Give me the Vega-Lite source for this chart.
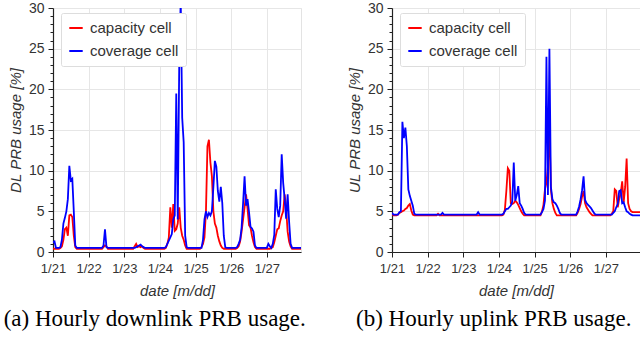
{
"$schema":"https://vega.github.io/schema/vega-lite/v6.json",
"padding":{"left":3,"top":0,"right":0,"bottom":0},
"bounds":"flush",
"spacing":91,
"resolve":{"scale":{"color":"independent"},"legend":{"color":"independent"}},
"config":{"font":"Liberation Sans","view":{"stroke":"#e3e3e3"},
 "axis":{"gridColor":"#e6e6e6","domainColor":"#222","tickColor":"#222","labelColor":"#333","titleColor":"#333","labelFont":"Liberation Sans","titleFont":"Liberation Sans","titleFontStyle":"italic","titleFontWeight":"normal","titleFontSize":15,"domainWidth":1.2}},
"data":{"values":[
{"t":"2024-01-21T00:00","dc":0.4,"dv":1.2,"uc":4.6,"uv":4.8},
{"t":"2024-01-21T01:00","dc":0.4,"dv":1.3,"uc":4.5,"uv":4.6},
{"t":"2024-01-21T02:00","dc":0.4,"dv":0.5,"uc":4.5,"uv":4.6},
{"t":"2024-01-21T03:00","dc":0.4,"dv":0.5,"uc":4.5,"uv":4.6},
{"t":"2024-01-21T04:00","dc":0.4,"dv":0.5,"uc":4.6,"uv":4.6},
{"t":"2024-01-21T05:00","dc":0.5,"dv":0.6,"uc":4.8,"uv":4.9},
{"t":"2024-01-21T06:00","dc":0.7,"dv":1.5,"uc":4.9,"uv":5.0},
{"t":"2024-01-21T07:00","dc":1.5,"dv":3.5,"uc":5.0,"uv":16.0},
{"t":"2024-01-21T08:00","dc":2.8,"dv":4.2,"uc":5.1,"uv":14.0},
{"t":"2024-01-21T09:00","dc":3.0,"dv":5.0,"uc":5.3,"uv":15.3},
{"t":"2024-01-21T10:00","dc":2.0,"dv":6.5,"uc":5.4,"uv":13.0},
{"t":"2024-01-21T11:00","dc":4.5,"dv":10.6,"uc":5.7,"uv":7.7},
{"t":"2024-01-21T12:00","dc":4.6,"dv":8.8,"uc":5.9,"uv":6.9},
{"t":"2024-01-21T13:00","dc":4.3,"dv":9.0,"uc":5.1,"uv":6.3},
{"t":"2024-01-21T14:00","dc":2.0,"dv":5.0,"uc":4.6,"uv":5.7},
{"t":"2024-01-21T15:00","dc":0.6,"dv":0.8,"uc":4.5,"uv":4.7},
{"t":"2024-01-21T16:00","dc":0.4,"dv":0.5,"uc":4.5,"uv":4.6},
{"t":"2024-01-21T17:00","dc":0.4,"dv":0.5,"uc":4.5,"uv":4.6},
{"t":"2024-01-21T18:00","dc":0.4,"dv":0.5,"uc":4.5,"uv":4.6},
{"t":"2024-01-21T19:00","dc":0.4,"dv":0.5,"uc":4.5,"uv":4.6},
{"t":"2024-01-21T20:00","dc":0.4,"dv":0.5,"uc":4.5,"uv":4.6},
{"t":"2024-01-21T21:00","dc":0.4,"dv":0.5,"uc":4.5,"uv":4.6},
{"t":"2024-01-21T22:00","dc":0.4,"dv":0.5,"uc":4.5,"uv":4.6},
{"t":"2024-01-21T23:00","dc":0.4,"dv":0.5,"uc":4.5,"uv":4.6},
{"t":"2024-01-22T00:00","dc":0.4,"dv":0.5,"uc":4.5,"uv":4.6},
{"t":"2024-01-22T01:00","dc":0.4,"dv":0.5,"uc":4.5,"uv":4.6},
{"t":"2024-01-22T02:00","dc":0.4,"dv":0.5,"uc":4.5,"uv":4.6},
{"t":"2024-01-22T03:00","dc":0.4,"dv":0.5,"uc":4.5,"uv":4.6},
{"t":"2024-01-22T04:00","dc":0.4,"dv":0.5,"uc":4.5,"uv":4.6},
{"t":"2024-01-22T05:00","dc":0.4,"dv":0.5,"uc":4.5,"uv":4.6},
{"t":"2024-01-22T06:00","dc":0.4,"dv":0.5,"uc":4.5,"uv":4.6},
{"t":"2024-01-22T07:00","dc":0.4,"dv":0.5,"uc":4.7,"uv":4.6},
{"t":"2024-01-22T08:00","dc":0.4,"dv":0.5,"uc":4.5,"uv":4.6},
{"t":"2024-01-22T09:00","dc":0.4,"dv":0.5,"uc":4.5,"uv":4.6},
{"t":"2024-01-22T10:00","dc":0.6,"dv":0.8,"uc":4.5,"uv":4.8},
{"t":"2024-01-22T11:00","dc":0.8,"dv":2.8,"uc":4.5,"uv":4.6},
{"t":"2024-01-22T12:00","dc":0.7,"dv":0.6,"uc":4.5,"uv":4.6},
{"t":"2024-01-22T13:00","dc":0.4,"dv":0.5,"uc":4.5,"uv":4.6},
{"t":"2024-01-22T14:00","dc":0.4,"dv":0.5,"uc":4.5,"uv":4.6},
{"t":"2024-01-22T15:00","dc":0.4,"dv":0.5,"uc":4.5,"uv":4.6},
{"t":"2024-01-22T16:00","dc":0.4,"dv":0.5,"uc":4.5,"uv":4.6},
{"t":"2024-01-22T17:00","dc":0.4,"dv":0.5,"uc":4.5,"uv":4.6},
{"t":"2024-01-22T18:00","dc":0.4,"dv":0.5,"uc":4.5,"uv":4.6},
{"t":"2024-01-22T19:00","dc":0.4,"dv":0.5,"uc":4.5,"uv":4.6},
{"t":"2024-01-22T20:00","dc":0.4,"dv":0.5,"uc":4.5,"uv":4.6},
{"t":"2024-01-22T21:00","dc":0.4,"dv":0.5,"uc":4.5,"uv":4.6},
{"t":"2024-01-22T22:00","dc":0.4,"dv":0.5,"uc":4.5,"uv":4.6},
{"t":"2024-01-22T23:00","dc":0.4,"dv":0.5,"uc":4.5,"uv":4.6},
{"t":"2024-01-23T00:00","dc":0.4,"dv":0.5,"uc":4.5,"uv":4.6},
{"t":"2024-01-23T01:00","dc":0.4,"dv":0.5,"uc":4.5,"uv":4.6},
{"t":"2024-01-23T02:00","dc":0.4,"dv":0.5,"uc":4.5,"uv":4.6},
{"t":"2024-01-23T03:00","dc":0.4,"dv":0.5,"uc":4.5,"uv":4.6},
{"t":"2024-01-23T04:00","dc":0.4,"dv":0.5,"uc":4.5,"uv":4.6},
{"t":"2024-01-23T05:00","dc":0.4,"dv":0.5,"uc":4.5,"uv":4.6},
{"t":"2024-01-23T06:00","dc":0.4,"dv":0.5,"uc":4.5,"uv":4.6},
{"t":"2024-01-23T07:00","dc":0.7,"dv":0.5,"uc":4.5,"uv":4.6},
{"t":"2024-01-23T08:00","dc":1.0,"dv":0.6,"uc":4.5,"uv":4.6},
{"t":"2024-01-23T09:00","dc":0.6,"dv":0.7,"uc":4.5,"uv":4.6},
{"t":"2024-01-23T10:00","dc":0.7,"dv":0.8,"uc":4.5,"uv":4.9},
{"t":"2024-01-23T11:00","dc":0.6,"dv":0.9,"uc":4.5,"uv":4.6},
{"t":"2024-01-23T12:00","dc":0.7,"dv":0.7,"uc":4.5,"uv":4.6},
{"t":"2024-01-23T13:00","dc":0.5,"dv":0.6,"uc":4.5,"uv":4.6},
{"t":"2024-01-23T14:00","dc":0.4,"dv":0.5,"uc":4.5,"uv":4.6},
{"t":"2024-01-23T15:00","dc":0.4,"dv":0.5,"uc":4.5,"uv":4.6},
{"t":"2024-01-23T16:00","dc":0.4,"dv":0.5,"uc":4.5,"uv":4.6},
{"t":"2024-01-23T17:00","dc":0.4,"dv":0.5,"uc":4.5,"uv":4.6},
{"t":"2024-01-23T18:00","dc":0.4,"dv":0.5,"uc":4.5,"uv":4.6},
{"t":"2024-01-23T19:00","dc":0.4,"dv":0.5,"uc":4.5,"uv":4.6},
{"t":"2024-01-23T20:00","dc":0.4,"dv":0.5,"uc":4.5,"uv":4.6},
{"t":"2024-01-23T21:00","dc":0.4,"dv":0.5,"uc":4.5,"uv":4.6},
{"t":"2024-01-23T22:00","dc":0.4,"dv":0.5,"uc":4.5,"uv":4.6},
{"t":"2024-01-23T23:00","dc":0.4,"dv":0.5,"uc":4.5,"uv":4.6},
{"t":"2024-01-24T00:00","dc":0.4,"dv":0.5,"uc":4.5,"uv":4.6},
{"t":"2024-01-24T01:00","dc":0.4,"dv":0.5,"uc":4.5,"uv":4.6},
{"t":"2024-01-24T02:00","dc":0.4,"dv":0.5,"uc":4.5,"uv":4.6},
{"t":"2024-01-24T03:00","dc":0.4,"dv":0.5,"uc":4.6,"uv":4.7},
{"t":"2024-01-24T04:00","dc":0.5,"dv":0.6,"uc":5.2,"uv":5.0},
{"t":"2024-01-24T05:00","dc":1.0,"dv":1.0,"uc":7.5,"uv":5.3},
{"t":"2024-01-24T06:00","dc":1.8,"dv":1.4,"uc":10.3,"uv":5.3},
{"t":"2024-01-24T07:00","dc":5.5,"dv":1.8,"uc":10.0,"uv":5.5},
{"t":"2024-01-24T08:00","dc":3.0,"dv":2.2,"uc":6.0,"uv":5.7},
{"t":"2024-01-24T09:00","dc":5.9,"dv":4.0,"uc":5.9,"uv":6.2},
{"t":"2024-01-24T10:00","dc":2.6,"dv":4.5,"uc":6.0,"uv":11.0},
{"t":"2024-01-24T11:00","dc":2.8,"dv":19.5,"uc":6.3,"uv":6.3},
{"t":"2024-01-24T12:00","dc":3.5,"dv":4.0,"uc":6.1,"uv":7.0},
{"t":"2024-01-24T13:00","dc":5.5,"dv":23.0,"uc":5.8,"uv":8.1},
{"t":"2024-01-24T14:00","dc":3.0,"dv":31.0,"uc":5.4,"uv":6.0},
{"t":"2024-01-24T15:00","dc":2.0,"dv":16.5,"uc":5.0,"uv":5.7},
{"t":"2024-01-24T16:00","dc":1.5,"dv":13.5,"uc":4.7,"uv":5.3},
{"t":"2024-01-24T17:00","dc":0.8,"dv":2.0,"uc":4.5,"uv":4.8},
{"t":"2024-01-24T18:00","dc":0.4,"dv":0.6,"uc":4.5,"uv":4.6},
{"t":"2024-01-24T19:00","dc":0.4,"dv":0.5,"uc":4.5,"uv":4.6},
{"t":"2024-01-24T20:00","dc":0.4,"dv":0.5,"uc":4.5,"uv":4.6},
{"t":"2024-01-24T21:00","dc":0.4,"dv":0.5,"uc":4.5,"uv":4.6},
{"t":"2024-01-24T22:00","dc":0.4,"dv":0.5,"uc":4.5,"uv":4.6},
{"t":"2024-01-24T23:00","dc":0.4,"dv":0.5,"uc":4.5,"uv":4.6},
{"t":"2024-01-25T00:00","dc":0.4,"dv":0.5,"uc":4.5,"uv":4.6},
{"t":"2024-01-25T01:00","dc":0.4,"dv":0.5,"uc":4.5,"uv":4.6},
{"t":"2024-01-25T02:00","dc":0.4,"dv":0.5,"uc":4.5,"uv":4.6},
{"t":"2024-01-25T03:00","dc":0.4,"dv":0.5,"uc":4.5,"uv":4.6},
{"t":"2024-01-25T04:00","dc":0.6,"dv":0.5,"uc":4.5,"uv":4.6},
{"t":"2024-01-25T05:00","dc":1.0,"dv":1.5,"uc":5.0,"uv":4.9},
{"t":"2024-01-25T06:00","dc":1.8,"dv":4.0,"uc":5.8,"uv":5.3},
{"t":"2024-01-25T07:00","dc":5.0,"dv":5.0,"uc":7.7,"uv":6.3},
{"t":"2024-01-25T08:00","dc":13.0,"dv":4.3,"uc":8.5,"uv":24.0},
{"t":"2024-01-25T09:00","dc":13.8,"dv":4.8,"uc":10.5,"uv":7.0},
{"t":"2024-01-25T10:00","dc":11.0,"dv":4.5,"uc":15.4,"uv":25.0},
{"t":"2024-01-25T11:00","dc":9.3,"dv":5.0,"uc":7.7,"uv":8.0},
{"t":"2024-01-25T12:00","dc":5.0,"dv":8.0,"uc":6.0,"uv":6.5},
{"t":"2024-01-25T13:00","dc":3.5,"dv":11.2,"uc":5.3,"uv":6.1},
{"t":"2024-01-25T14:00","dc":3.0,"dv":10.5,"uc":4.8,"uv":6.0},
{"t":"2024-01-25T15:00","dc":2.0,"dv":7.5,"uc":4.5,"uv":5.7},
{"t":"2024-01-25T16:00","dc":1.3,"dv":6.2,"uc":4.5,"uv":5.3},
{"t":"2024-01-25T17:00","dc":0.8,"dv":8.0,"uc":4.5,"uv":4.8},
{"t":"2024-01-25T18:00","dc":0.5,"dv":6.0,"uc":4.5,"uv":4.6},
{"t":"2024-01-25T19:00","dc":0.4,"dv":2.0,"uc":4.5,"uv":4.6},
{"t":"2024-01-25T20:00","dc":0.4,"dv":0.6,"uc":4.5,"uv":4.6},
{"t":"2024-01-25T21:00","dc":0.4,"dv":0.5,"uc":4.5,"uv":4.6},
{"t":"2024-01-25T22:00","dc":0.4,"dv":0.5,"uc":4.5,"uv":4.6},
{"t":"2024-01-25T23:00","dc":0.4,"dv":0.5,"uc":4.5,"uv":4.6},
{"t":"2024-01-26T00:00","dc":0.4,"dv":0.5,"uc":4.5,"uv":4.6},
{"t":"2024-01-26T01:00","dc":0.4,"dv":0.5,"uc":4.5,"uv":4.6},
{"t":"2024-01-26T02:00","dc":0.4,"dv":0.5,"uc":4.5,"uv":4.6},
{"t":"2024-01-26T03:00","dc":0.4,"dv":0.5,"uc":4.5,"uv":4.6},
{"t":"2024-01-26T04:00","dc":0.5,"dv":0.6,"uc":4.5,"uv":4.6},
{"t":"2024-01-26T05:00","dc":0.7,"dv":1.0,"uc":4.8,"uv":5.0},
{"t":"2024-01-26T06:00","dc":1.3,"dv":1.5,"uc":5.3,"uv":5.6},
{"t":"2024-01-26T07:00","dc":2.5,"dv":3.0,"uc":5.9,"uv":6.5},
{"t":"2024-01-26T08:00","dc":4.0,"dv":6.0,"uc":6.8,"uv":7.6},
{"t":"2024-01-26T09:00","dc":5.5,"dv":9.3,"uc":7.5,"uv":9.3},
{"t":"2024-01-26T10:00","dc":7.1,"dv":5.7,"uc":6.0,"uv":6.4},
{"t":"2024-01-26T11:00","dc":5.3,"dv":6.5,"uc":5.5,"uv":6.0},
{"t":"2024-01-26T12:00","dc":3.3,"dv":4.9,"uc":5.2,"uv":5.8},
{"t":"2024-01-26T13:00","dc":3.0,"dv":3.1,"uc":4.9,"uv":5.6},
{"t":"2024-01-26T14:00","dc":2.0,"dv":2.9,"uc":4.7,"uv":5.4},
{"t":"2024-01-26T15:00","dc":1.2,"dv":2.5,"uc":4.5,"uv":5.1},
{"t":"2024-01-26T16:00","dc":0.6,"dv":0.8,"uc":4.5,"uv":4.8},
{"t":"2024-01-26T17:00","dc":0.4,"dv":0.5,"uc":4.5,"uv":4.6},
{"t":"2024-01-26T18:00","dc":0.4,"dv":0.5,"uc":4.5,"uv":4.6},
{"t":"2024-01-26T19:00","dc":0.4,"dv":0.5,"uc":4.5,"uv":4.6},
{"t":"2024-01-26T20:00","dc":0.4,"dv":0.5,"uc":4.5,"uv":4.6},
{"t":"2024-01-26T21:00","dc":0.4,"dv":0.5,"uc":4.5,"uv":4.6},
{"t":"2024-01-26T22:00","dc":0.4,"dv":0.5,"uc":4.5,"uv":4.6},
{"t":"2024-01-26T23:00","dc":0.4,"dv":0.5,"uc":4.5,"uv":4.6},
{"t":"2024-01-27T00:00","dc":0.4,"dv":0.5,"uc":4.5,"uv":4.6},
{"t":"2024-01-27T01:00","dc":0.4,"dv":1.0,"uc":4.5,"uv":4.6},
{"t":"2024-01-27T02:00","dc":0.4,"dv":0.7,"uc":4.5,"uv":4.6},
{"t":"2024-01-27T03:00","dc":0.5,"dv":0.5,"uc":4.5,"uv":4.6},
{"t":"2024-01-27T04:00","dc":0.6,"dv":1.0,"uc":4.7,"uv":4.6},
{"t":"2024-01-27T05:00","dc":1.2,"dv":2.1,"uc":5.0,"uv":4.8},
{"t":"2024-01-27T06:00","dc":2.0,"dv":7.7,"uc":7.7,"uv":5.0},
{"t":"2024-01-27T07:00","dc":2.8,"dv":5.3,"uc":7.5,"uv":5.5},
{"t":"2024-01-27T08:00","dc":2.9,"dv":4.3,"uc":5.5,"uv":5.9},
{"t":"2024-01-27T09:00","dc":3.8,"dv":5.7,"uc":6.5,"uv":7.5},
{"t":"2024-01-27T10:00","dc":4.5,"dv":12.0,"uc":7.2,"uv":7.6},
{"t":"2024-01-27T11:00","dc":5.0,"dv":8.5,"uc":8.7,"uv":6.0},
{"t":"2024-01-27T12:00","dc":7.1,"dv":6.5,"uc":6.1,"uv":6.1},
{"t":"2024-01-27T13:00","dc":5.3,"dv":4.1,"uc":8.0,"uv":5.5},
{"t":"2024-01-27T14:00","dc":2.5,"dv":7.1,"uc":11.5,"uv":5.0},
{"t":"2024-01-27T15:00","dc":1.3,"dv":3.7,"uc":6.0,"uv":4.9},
{"t":"2024-01-27T16:00","dc":0.7,"dv":1.0,"uc":5.3,"uv":4.7},
{"t":"2024-01-27T17:00","dc":0.4,"dv":0.5,"uc":5.0,"uv":4.6},
{"t":"2024-01-27T18:00","dc":0.4,"dv":0.5,"uc":4.9,"uv":4.5},
{"t":"2024-01-27T19:00","dc":0.4,"dv":0.5,"uc":4.9,"uv":4.5},
{"t":"2024-01-27T20:00","dc":0.4,"dv":0.5,"uc":4.9,"uv":4.5},
{"t":"2024-01-27T21:00","dc":0.4,"dv":0.5,"uc":4.9,"uv":4.5},
{"t":"2024-01-27T22:00","dc":0.4,"dv":0.5,"uc":4.9,"uv":4.5},
{"t":"2024-01-27T23:00","dc":0.4,"dv":0.5,"uc":4.9,"uv":4.5}
]},
"hconcat":[
{"width":248,"height":244,
 "title":{"text":"(a) Hourly downlink PRB usage.","orient":"bottom","anchor":"middle","frame":"bounds","font":"Liberation Serif","fontSize":23,"fontWeight":"normal","color":"#000","offset":10},
 "transform":[{"fold":["dc","dv"],"as":["s","v"]}],
 "mark":{"type":"line","strokeWidth":1.8,"clip":true},
 "encoding":{
  "x":{"field":"t","type":"temporal","scale":{"domain":[{"year":2024,"month":1,"date":21,"hours":0},{"year":2024,"month":1,"date":27,"hours":23}]},
   "axis":{"values":[{"year":2024,"month":1,"date":21},{"year":2024,"month":1,"date":22},{"year":2024,"month":1,"date":23},{"year":2024,"month":1,"date":24},{"year":2024,"month":1,"date":25},{"year":2024,"month":1,"date":26},{"year":2024,"month":1,"date":27}],
    "format":"%-m/%d","title":"date [m/dd]","labelFontSize":13,"tickSize":5,"labelPadding":5,"titlePadding":8,"labelFlush":false,"labelOverlap":false}},
  "y":{"field":"v","type":"quantitative","scale":{"domain":[0,30],"nice":false},
   "axis":{"values":[0,1,2,3,4,5,6,7,8,9,10,11,12,13,14,15,16,17,18,19,20,21,22,23,24,25,26,27,28,29,30],
    "tickSize":{"condition":{"test":"datum.value % 5 === 0","value":5},"value":3},
    "gridOpacity":{"condition":{"test":"datum.value % 5 === 0","value":1},"value":0},
    "labelExpr":"datum.value % 5 === 0 ? datum.label : ''","labelOverlap":false,
    "labelFontSize":14,"labelPadding":4,"title":"DL PRB usage [%]","titlePadding":5}},
  "color":{"field":"s","type":"nominal","scale":{"domain":["dc","dv"],"range":["#ff0000","#0000ff"]},
   "legend":{"title":null,"orient":"none","legendX":8,"legendY":5,"labelExpr":"datum.label == 'dc' ? 'capacity cell' : 'coverage cell'","fillColor":"white","strokeColor":"#dddddd","padding":7,"symbolType":"stroke","symbolStrokeWidth":2,"symbolSize":180,"labelFontSize":15,"labelColor":"#333","rowPadding":7,"labelOffset":6,"cornerRadius":2}}
 }},
{"width":248,"height":244,
 "title":{"text":"(b) Hourly uplink PRB usage.","orient":"bottom","anchor":"middle","frame":"bounds","font":"Liberation Serif","fontSize":23,"fontWeight":"normal","color":"#000","offset":10},
 "transform":[{"fold":["uc","uv"],"as":["s","v"]}],
 "mark":{"type":"line","strokeWidth":1.8,"clip":true},
 "encoding":{
  "x":{"field":"t","type":"temporal","scale":{"domain":[{"year":2024,"month":1,"date":21,"hours":0},{"year":2024,"month":1,"date":27,"hours":23}]},
   "axis":{"values":[{"year":2024,"month":1,"date":21},{"year":2024,"month":1,"date":22},{"year":2024,"month":1,"date":23},{"year":2024,"month":1,"date":24},{"year":2024,"month":1,"date":25},{"year":2024,"month":1,"date":26},{"year":2024,"month":1,"date":27}],
    "format":"%-m/%d","title":"date [m/dd]","labelFontSize":13,"tickSize":5,"labelPadding":5,"titlePadding":8,"labelFlush":false,"labelOverlap":false}},
  "y":{"field":"v","type":"quantitative","scale":{"domain":[0,30],"nice":false},
   "axis":{"values":[0,1,2,3,4,5,6,7,8,9,10,11,12,13,14,15,16,17,18,19,20,21,22,23,24,25,26,27,28,29,30],
    "tickSize":{"condition":{"test":"datum.value % 5 === 0","value":5},"value":3},
    "gridOpacity":{"condition":{"test":"datum.value % 5 === 0","value":1},"value":0},
    "labelExpr":"datum.value % 5 === 0 ? datum.label : ''","labelOverlap":false,
    "labelFontSize":14,"labelPadding":4,"title":"UL PRB usage [%]","titlePadding":5}},
  "color":{"field":"s","type":"nominal","scale":{"domain":["uc","uv"],"range":["#ff0000","#0000ff"]},
   "legend":{"title":null,"orient":"none","legendX":8,"legendY":5,"labelExpr":"datum.label == 'uc' ? 'capacity cell' : 'coverage cell'","fillColor":"white","strokeColor":"#dddddd","padding":7,"symbolType":"stroke","symbolStrokeWidth":2,"symbolSize":180,"labelFontSize":15,"labelColor":"#333","rowPadding":7,"labelOffset":6,"cornerRadius":2}}
 }}
]
}
